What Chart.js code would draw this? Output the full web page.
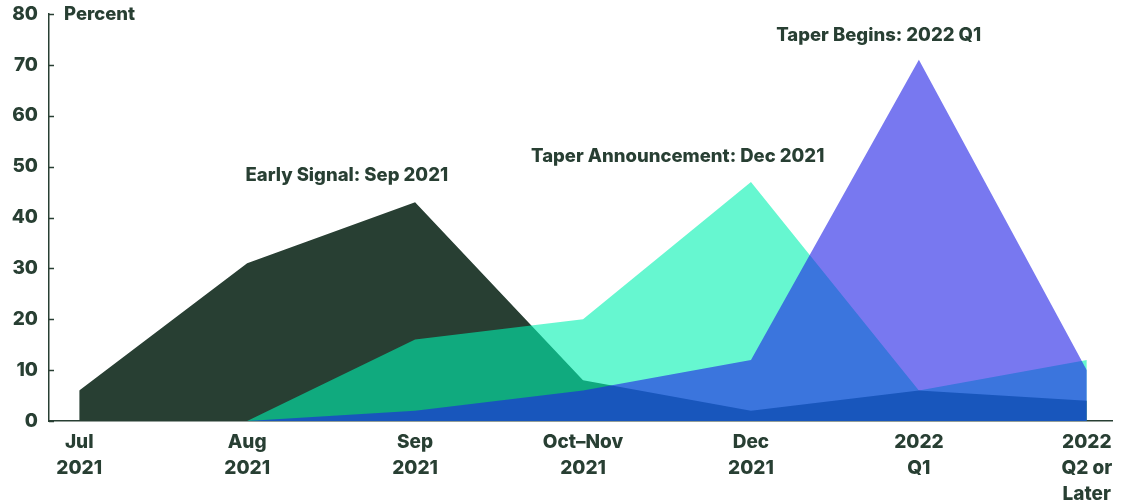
<!DOCTYPE html>
<html>
<head>
<meta charset="utf-8">
<script src="https://cdn.jsdelivr.net/npm/chart.js@4"></script>
<style>
  html, body { margin: 0; padding: 0; background: #fff; }
  #wrap { width: 1122px; height: 504px; }
</style>
</head>
<body>
<div id="wrap"><canvas id="chart" width="1122" height="504"></canvas></div>
<script>
// data
const categories = [['Jul', '2021'], ['Aug', '2021'], ['Sep', '2021'], ['Oct\u2013Nov', '2021'], ['Dec', '2021'], ['2022', 'Q1'], ['2022', 'Q2 or', 'Later']];
const earlySignal = [6, 31, 43, 8, 2, 6, 4];
const taperAnnouncement = [0, 0, 16, 20, 47, 6, 12];
const taperBegins = [0, 0, 2, 6, 12, 71, 10];
const yTicks = [0, 10, 20, 30, 40, 50, 60, 70, 80];
const seriesNames = ['Early Signal: Sep 2021', 'Taper Announcement: Dec 2021', 'Taper Begins: 2022 Q1'];

const ink = '#283f33';
const font = 'Inter';

// where the series names sit (in axis units, left edge of text)
const notes = [
  { text: seriesNames[0], x: 0.99, y: 48.3 },
  { text: seriesNames[1], x: 2.69, y: 52.1 },
  { text: seriesNames[2], x: 4.15, y: 75.8 }
];

const pts = arr => arr.map((v, i) => ({ x: i, y: v }));

const extras = {
  id: 'extras',
  afterDraw(chart) {
    const { ctx, scales: { x, y } } = chart;
    ctx.save();
    // little ticks pointing into the plot
    ctx.strokeStyle = ink;
    ctx.lineWidth = 1.5;
    yTicks.forEach(v => {
      const py = Math.round(y.getPixelForValue(v)) + 0.5;
      ctx.beginPath();
      ctx.moveTo(x.left, py);
      ctx.lineTo(x.left + 5, py);
      ctx.stroke();
    });
    ctx.fillStyle = ink;
    ctx.textBaseline = 'middle';
    ctx.textAlign = 'left';
    ctx.font = `800 18.5px ${font}`;
    ctx.fillText('Percent', x.left + 15, y.getPixelForValue(80));
    notes.forEach(n => {
      ctx.fillText(n.text, x.getPixelForValue(n.x), y.getPixelForValue(n.y));
    });
    ctx.restore();
  }
};

new Chart(document.getElementById('chart'), {
  type: 'line',
  data: {
    datasets: [
      { label: seriesNames[0], data: pts(earlySignal), backgroundColor: ink, fill: 'origin', order: 3 },
      { label: seriesNames[1], data: pts(taperAnnouncement), backgroundColor: 'rgba(0,242,177,0.6)', fill: 'origin', order: 2 },
      { label: seriesNames[2], data: pts(taperBegins), backgroundColor: 'rgba(30,30,230,0.6)', fill: 'origin', order: 1 }
    ]
  },
  options: {
    responsive: false,
    animation: false,
    layout: { padding: { top: 14, right: 10, left: 0, bottom: 0 } },
    elements: {
      line: { tension: 0, borderWidth: 0 },
      point: { radius: 0, hoverRadius: 0 }
    },
    plugins: { legend: { display: false }, tooltip: { enabled: false } },
    scales: {
      x: {
        type: 'linear',
        min: -0.18,
        max: 6.15,
        afterBuildTicks: s => { s.ticks = categories.map((_, i) => ({ value: i })); },
        afterFit: s => { s.height = 83; s.paddingLeft = 0; s.paddingRight = 0; },
        grid: { display: false, drawTicks: false },
        border: { display: true, color: ink, width: 1.5 },
        ticks: {
          padding: 8,
          color: ink,
          font: { family: font, weight: '800', size: 19, lineHeight: 1.38 },
          maxRotation: 0,
          autoSkip: false,
          callback: v => categories[v]
        }
      },
      y: {
        min: 0,
        max: 80,
        afterBuildTicks: s => { s.ticks = yTicks.map(v => ({ value: v })); },
        afterFit: s => { s.width = 49; s.paddingTop = 0; s.paddingBottom = 0; },
        grid: { display: false, drawTicks: false },
        border: { display: true, color: ink, width: 1.5 },
        ticks: {
          padding: 11,
          color: ink,
          font: { family: font, weight: '800', size: 19 }
        }
      }
    }
  },
  plugins: [extras]
});
</script>
</body>
</html>
